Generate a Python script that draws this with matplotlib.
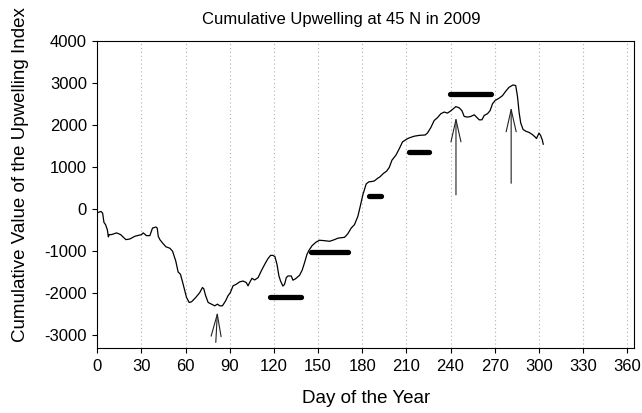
import matplotlib
matplotlib.use("Agg")
from matplotlib import pyplot as plt

plt.rcParams['font.family'] = ['Liberation Sans', 'DejaVu Sans']
plt.rcParams['axes.unicode_minus'] = False

# cumulative upwelling index
days = [0.5, 2.5, 3.6, 4.5, 5.6, 6.8, 7.5, 8.1, 9.7, 13.1, 15.8, 19.4, 22.1, 25.5,
        30.0, 31.2, 33.4, 35.7, 37.5, 39.8, 40.7, 41.4, 42.5, 44.3, 46.6, 49.3,
        51.1, 53.3, 54.9, 56.5, 58.3, 60.6, 62.4, 64.0, 66.9, 69.6, 71.4, 72.3,
        73.6, 75.3, 77.5, 79.8, 81.6, 83.2, 85.0, 87.2, 88.8, 90.4, 92.2, 94.5,
        96.7, 99.0, 101.2, 102.4, 103.5, 105.1, 106.9, 109.2, 111.4, 113.7, 115.9,
        117.7, 119.3, 120.7, 122.1, 123.4, 124.5, 126.1, 127.2, 128.4, 129.5,
        131.8, 132.9, 134.7, 137.4, 139.2, 140.8, 142.4, 143.8, 146.0, 148.8,
        151.0, 154.4, 157.8, 161.2, 163.5, 168.0, 170.2, 172.5, 174.7, 177.0,
        178.6, 180.4, 182.7, 184.5, 186.0, 188.2, 190.5, 192.1, 194.4, 196.6,
        198.4, 200.2, 202.9, 205.2, 207.4, 210.2, 211.9, 215.3, 218.7, 222.8,
        224.3, 226.6, 228.9, 231.1, 233.4, 235.7, 237.9, 239.8, 241.8, 243.6,
        245.9, 247.7, 249.3, 251.5, 253.8, 256.1, 257.2, 259.5, 261.3, 262.9,
        265.1, 266.9, 268.5, 270.3, 273.0, 275.3, 277.5, 279.8, 282.5, 284.3,
        285.5, 286.6, 287.7, 289.3, 291.1, 293.4, 295.6, 297.4, 298.4, 300.1,
        301.2, 302.4, 303.0]
values = [-80, -55, -95, -315, -370, -490, -660, -605, -605, -565, -605, -725, -710, -645,
          -605, -565, -630, -630, -450, -425, -450, -645, -725, -805, -895, -930,
          -1000, -1235, -1495, -1550, -1785, -2100, -2220, -2205, -2100, -1985, -1865, -1890,
          -2060, -2220, -2260, -2300, -2260, -2300, -2300, -2180, -2060, -1985, -1825, -1785,
          -1730, -1710, -1745, -1825, -1745, -1645, -1685, -1630, -1470, -1315, -1180,
          -1100, -1100, -1130, -1318, -1590, -1710, -1830, -1790, -1630, -1590,
          -1590, -1690, -1655, -1575, -1450, -1275, -1080, -980, -865, -780,
          -740, -750, -765, -725, -690, -670, -585, -450, -370, -175,
          60, 340, 600, 650, 655, 670, 735, 770, 850, 905,
          995, 1165, 1285, 1440, 1600, 1665, 1695, 1735, 1755, 1765,
          1810, 1940, 2110, 2175, 2270, 2310, 2285, 2330, 2385, 2440,
          2410, 2345, 2205, 2190, 2205, 2245, 2205, 2125, 2125, 2230,
          2270, 2345, 2505, 2585, 2640, 2700, 2805, 2900, 2955, 2940,
          2680, 2300, 2050, 1895, 1855, 1825, 1775, 1720, 1680, 1810,
          1755, 1640, 1545]

# thick horizontal bars: start day, end day, level
bar_start = [117, 145, 184.5, 212, 239.5]
bar_end = [138.5, 170, 193, 225.5, 267.5]
bar_level = [-2100, -1030, 310, 1350, 2745]

# arrows: tail (day, value) -> tip (day, value)
arrow_tail = [(80.5, -3170), (243.7, 340), (281.2, 615)]
arrow_tip = [(81.6, -2440), (243.7, 2190), (281.2, 2430)]

xticks = list(range(0, 361, 30))
yticks = list(range(-3000, 4001, 1000))

fig = plt.figure(figsize=(6.42, 4.13), dpi=100)
ax = fig.add_axes([0.1516, 0.1567, 0.8367, 0.744])

for x in xticks[1:]:
    ax.axvline(x, color="#b0b0b0", lw=0.8, ls=(0, (1, 2.5)), zorder=0)

ax.plot(days, values, color="black", lw=0.9)

for x0, x1, y in zip(bar_start, bar_end, bar_level):
    ax.plot([x0, x1], [y, y], color="black", lw=3.8, solid_capstyle="round")

for tail, tip in zip(arrow_tail, arrow_tip):
    ax.annotate("", xy=tip, xytext=tail,
                arrowprops=dict(arrowstyle="->,head_length=1.6,head_width=0.36",
                                color="#222222", lw=0.8, shrinkA=0, shrinkB=0,
                                mutation_scale=10))

ax.set_xlim(0, 365)
ax.set_ylim(-3310, 4000)
ax.set_xticks(xticks)
ax.set_yticks(yticks)
ax.tick_params(direction="out", length=3.5, width=0.8, labelsize=12, pad=4)
for s in ax.spines.values():
    s.set_linewidth(0.8)

ax.set_title("Cumulative Upwelling at 45 N in 2009", fontsize=12, pad=12, x=0.454)
ax.set_xlabel("Day of the Year", fontsize=13.5, labelpad=12)
ax.set_ylabel("Cumulative Value of the Upwelling Index", fontsize=13.5)
ax.yaxis.set_label_coords(-0.128, 0.565)

fig.savefig("out.png", dpi=100)
